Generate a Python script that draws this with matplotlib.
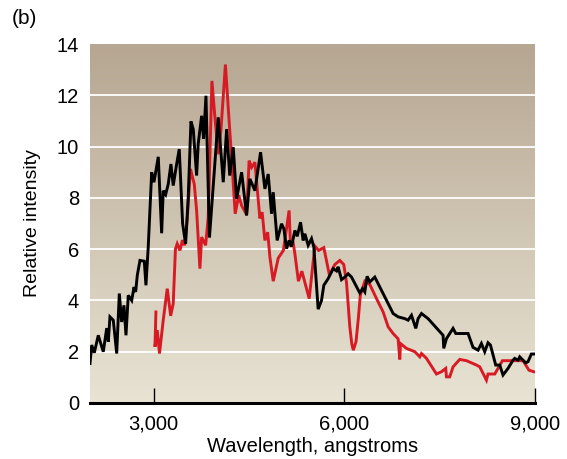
import numpy as np
import matplotlib
matplotlib.use("Agg")
import matplotlib.pyplot as plt
from matplotlib.colors import LinearSegmentedColormap

plt.rcParams['font.family'] = ['Liberation Sans', 'DejaVu Sans']

# Black spectrum
black_wl = [2000, 2027, 2068, 2130, 2209, 2263, 2288, 2314, 2366, 2420, 2461, 2498, 2534, 2566,
            2602, 2656, 2692, 2718, 2744, 2786, 2854, 2880, 2916, 2970, 3006, 3037, 3074, 3127,
            3152, 3190, 3231, 3273, 3309, 3363, 3404, 3457, 3504, 3545, 3588, 3624, 3677, 3702,
            3756, 3787, 3824, 3879, 4017, 4096, 4149, 4198, 4253, 4306, 4385, 4463, 4515, 4594,
            4683, 4751, 4803, 4856, 4882, 4944, 5013, 5050, 5092, 5133, 5170, 5223, 5260, 5312,
            5353, 5380, 5432, 5485, 5521, 5589, 5642, 5678, 5746, 5825, 5878, 5903, 5957, 6009,
            6060, 6114, 6244, 6287, 6323, 6359, 6402, 6480, 6611, 6716, 6768, 6847, 6952, 7004,
            7057, 7125, 7161, 7214, 7318, 7554, 7565, 7607, 7711, 7754, 7947, 8025, 8104, 8157,
            8209, 8261, 8299, 8382, 8445, 8497, 8576, 8654, 8681, 8733, 8760, 8811, 8854, 8890,
            8943, 9000]
black_val = [1.54, 2.26, 1.96, 2.64, 2.0, 2.92, 2.39, 3.36, 3.23, 1.93, 4.27, 3.16, 3.81, 2.64,
             4.2, 4.0, 4.52, 4.33, 4.98, 5.56, 5.53, 4.59, 6.08, 9.0, 8.61, 9.06, 9.6, 6.62,
             8.28, 8.13, 8.54, 9.32, 8.48, 9.32, 9.9, 6.99, 6.21, 8.02, 10.98, 10.68, 8.87, 10.1,
             11.2, 10.3, 11.98, 6.45, 11.14, 8.61, 10.68, 8.87, 9.98, 7.96, 9.0, 7.31, 8.74, 8.28,
             9.78, 8.35, 8.93, 7.38, 8.22, 6.34, 6.99, 6.79, 6.02, 6.34, 6.1, 6.73, 6.5, 7.05,
             6.34, 6.6, 6.15, 6.41, 6.08, 3.66, 4.0, 4.59, 4.85, 5.24, 5.15, 5.31, 4.81, 4.91,
             5.04, 4.91, 4.29, 4.46, 4.33, 4.94, 4.72, 4.91, 4.27, 3.75, 3.49, 3.36, 3.29, 3.23,
             3.42, 2.91, 3.29, 3.49, 3.29, 2.64, 2.13, 2.51, 2.91, 2.71, 2.71, 2.17, 2.06, 2.32,
             2.0, 2.35, 2.26, 1.48, 1.48, 1.09, 1.35, 1.67, 1.74, 1.67, 1.8, 1.67, 1.57, 1.61,
             1.91, 1.91]

# Red spectrum
red_wl = [3037, 3022, 3058, 3093, 3152, 3215, 3269, 3309, 3344, 3372, 3415, 3454, 3489, 3530,
          3580, 3640, 3677, 3729, 3756, 3819, 3860, 3918, 3965, 4017, 4059, 4130, 4174, 4227,
          4284, 4339, 4385, 4463, 4503, 4542, 4594, 4672, 4708, 4751, 4795, 4830, 4882, 4961,
          5042, 5132, 5155, 5192, 5223, 5278, 5333, 5448, 5537, 5597, 5678, 5767, 5851, 5930,
          5992, 6035, 6060, 6087, 6118, 6142, 6185, 6221, 6252, 6323, 6402, 6507, 6611, 6690,
          6768, 6847, 6873, 6884, 6978, 7109, 7188, 7214, 7293, 7450, 7529, 7596, 7607, 7659,
          7711, 7816, 7922, 8079, 8131, 8236, 8261, 8367, 8487, 8654, 8811, 8905, 8980]
red_val = [3.55, 2.19, 2.84, 1.93, 3.23, 4.46, 3.4, 3.88, 6.0, 6.21, 5.95, 6.35, 6.15, 7.18,
           9.13, 8.54, 7.51, 5.24, 6.47, 6.15, 7.25, 12.56, 11.14, 9.7, 10.62, 13.2, 11.53, 9.58,
           7.38, 8.1, 7.7, 7.35, 9.45, 9.19, 9.39, 7.2, 7.44, 6.34, 6.66, 5.69, 4.75, 5.65,
           5.95, 7.51, 6.1, 6.3, 5.82, 4.75, 5.14, 4.07, 6.12, 5.95, 6.06, 4.98, 5.4, 5.56,
           5.4, 4.7, 3.88, 2.97, 2.3, 2.06, 2.4, 3.3, 4.2, 4.75, 4.62, 4.07, 3.55, 2.97,
           2.71, 2.5, 1.70, 2.32, 2.13, 2.0, 1.80, 1.93, 1.74, 1.13, 1.22, 1.35, 1.02, 1.02,
           1.41, 1.70, 1.65, 1.48, 1.41, 0.89, 1.13, 1.13, 1.65, 1.65, 1.65, 1.28, 1.22]

x_ticks = [3000, 6000, 9000]
x_tick_labels = ['3,000', '6,000', '9,000']
y_ticks = [0, 2, 4, 6, 8, 10, 12, 14]

fig = plt.figure(figsize=(5.67, 4.59), dpi=100)
ax = fig.add_axes([90/567, 56/459, 445/567, 359/459])

# background gradient
cmap = LinearSegmentedColormap.from_list('bg', ['#e8e3d3', '#b6a692'])
grad = np.linspace(0, 1, 256).reshape(-1, 1)
ax.imshow(grad, aspect='auto', cmap=cmap, origin='lower',
          extent=[2000, 9000, 0, 14], zorder=0)

for yv in y_ticks[1:-1]:
    ax.axhline(yv, color='white', lw=1.3, zorder=1)

ax.plot(black_wl, black_val, color='black', lw=2.1, zorder=3, solid_joinstyle='miter')
ax.plot(red_wl, red_val, color='#d71a24', lw=2.1, zorder=2, solid_joinstyle='miter')

ax.set_xlim(2000, 9000)
ax.set_ylim(0, 14)
ax.set_xticks(x_ticks)
ax.set_xticklabels(x_tick_labels)
ax.set_yticks(y_ticks)
ax.tick_params(axis='x', direction='in', length=11, width=1, color='black', pad=8, labelsize=14.5)
ax.tick_params(axis='y', length=0, pad=8, labelsize=14.5)
for s in ['top', 'right', 'left']:
    ax.spines[s].set_visible(False)
ax.spines['bottom'].set_linewidth(2.2)
ax.spines['bottom'].set_zorder(5)

ax.set_xlabel('Wavelength, angstroms', fontsize=14.5, labelpad=3)
ax.set_ylabel('Relative intensity', fontsize=14, labelpad=11)
fig.text(12/567, 1 - 19/459, '(b)', fontsize=15, va='center', ha='left')

fig.savefig('out.png', dpi=100)
